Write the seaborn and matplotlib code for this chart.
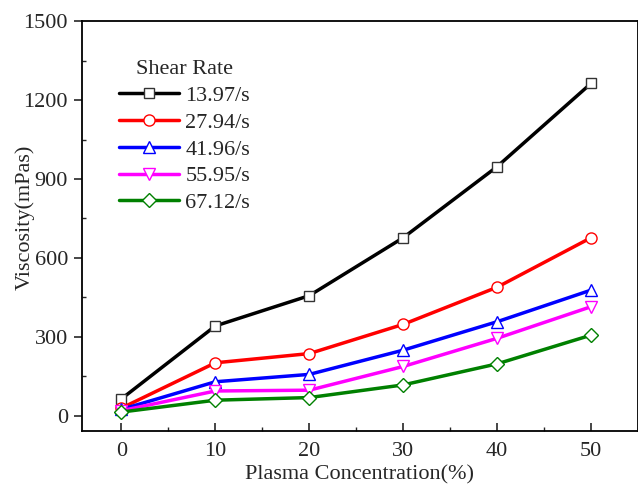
import numpy as np
import pandas as pd
import matplotlib
matplotlib.use("Agg")
import matplotlib.pyplot as plt
import seaborn as sns
from matplotlib.ticker import MultipleLocator

# 데이터
conc = [0, 10, 20, 30, 40, 50]
v_1397 = [65, 342, 457, 677, 947, 1263]
v_2794 = [30, 202, 237, 348, 489, 677]
v_4196 = [25, 130, 158, 250, 358, 478]
v_5595 = [20, 95, 98, 188, 295, 415]
v_6712 = [15, 60, 70, 118, 198, 307]
labels = ["13.97/s", "27.94/s", "41.96/s", "55.95/s", "67.12/s"]

sns.set_style("ticks")
plt.rcParams['font.family'] = ['Liberation Serif', 'DejaVu Serif']

series = [v_1397, v_2794, v_4196, v_5595, v_6712]
colors = ["black", "red", "blue", "magenta", "green"]
markers = ["s", "o", "^", "v", "D"]
msizes = [7, 8, 8.5, 8.5, 7.5]

fig = plt.figure(figsize=(6.38, 4.84), dpi=100)
ax = fig.add_axes([0.1285, 0.1095, 0.8715, 0.8471])

for vals, lab, c, m, ms in zip(series, labels, colors, markers, msizes):
    df = pd.DataFrame({"x": conc, "y": vals})
    sns.lineplot(data=df, x="x", y="y", ax=ax, color=c, lw=2.5, label=lab,
                 marker=m, markersize=ms, markerfacecolor="white",
                 markeredgecolor=(0.2, 0.2, 0.2) if c == "black" else c,
                 markeredgewidth=1.0)

ax.set_xlim(-4.2, 55)
ax.set_ylim(-57, 1500)
ax.xaxis.set_major_locator(MultipleLocator(10))
ax.xaxis.set_minor_locator(MultipleLocator(5))
ax.yaxis.set_major_locator(MultipleLocator(300))
ax.yaxis.set_minor_locator(MultipleLocator(150))
ax.tick_params(axis="x", which="major", direction="in", length=6, width=1.2, labelsize=16, pad=8)
ax.tick_params(axis="x", which="minor", direction="in", length=3, width=1)
ax.tick_params(axis="y", which="major", direction="out", length=6, width=1.2, labelsize=16, pad=4)
ax.tick_params(axis="y", which="minor", direction="in", length=3, width=1)
for s in ax.spines.values():
    s.set_linewidth(1.3)
    s.set_color("black")

ax.set_xlabel("Plasma Concentration(%)", fontsize=16, labelpad=3)
ax.set_ylabel("Viscosity(mPas)", fontsize=16)
ax.yaxis.set_label_coords(-0.085, 0.52)

leg = ax.legend(title="Shear Rate", frameon=False, loc="upper left",
                bbox_to_anchor=(0.03, 0.953), fontsize=16, title_fontsize=16,
                handlelength=2.7, labelspacing=0.28, handletextpad=0.3)

fig.savefig("out.png", dpi=100)
